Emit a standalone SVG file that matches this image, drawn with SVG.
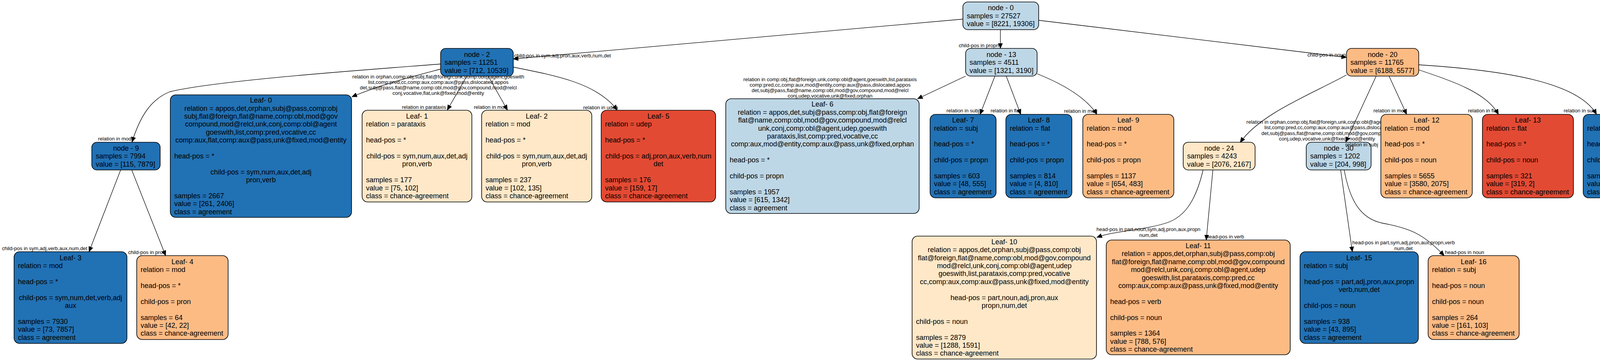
<svg xmlns="http://www.w3.org/2000/svg" width="4228" height="925" viewBox="0 0 4228 925">
<style>
.bx{stroke:#000;stroke-width:1.6}
.db{fill:#2171b5}.lb{fill:#bdd7e7}.lp{fill:#fee8c8}.op{fill:#fdbb84}.rd{fill:#e34a33}
.nt text{font-family:"Liberation Sans",Arial,Helvetica,sans-serif;font-size:18px;fill:#000}
.c{text-anchor:middle}
#edges path{fill:none;stroke:#000;stroke-width:1.3;marker-end:url(#arr)}
#edges text{font-family:"Liberation Sans",Arial,Helvetica,sans-serif;font-size:13px;fill:#000}
</style>
<defs>
<marker id="arr" markerUnits="userSpaceOnUse" markerWidth="14" markerHeight="12" viewBox="0 0 14 12" refX="13" refY="6" orient="auto"><path d="M0,0.5 L13,6 L0,11.5 Z" fill="#000" stroke="#000" stroke-width="1"/></marker>
</defs>
<rect width="4228" height="925" fill="#fff"/>

<g id="node30" class="nt"><rect class="bx lb" x="3344" y="364.5" width="166" height="71" rx="13"/>
<text class="c" x="3427" y="385.5">node - 30</text><text x="3354" y="406">samples = 1202</text><text x="3354" y="426.5">value = [204, 998]</text></g>

<g id="edges">
<path d="M2465,49 L1314,151"/>
<text x="1316" y="147">child-pos in sym,adj,pron,aux,verb,num,det</text>
<path d="M2561,76 L2561,124"/>
<text x="2557" y="121" text-anchor="end">child-pos in propn</text>
<path d="M2659,52 L3447,147"/>
<text x="3347" y="144.5">child-pos in noun</text>
<path d="M1128,164 C950,178 560,205 435,235 C385,255 358,300 338,364"/>
<text x="251" y="360">relation in mod</text>
<path d="M1128,177 C1060,195 980,215 901,248"/>
<text text-anchor="middle" x="1122" y="200.5">relation in orphan,comp:obj,subj,flat@foreign,unk,comp:obl@agent,goeswith</text>
<text text-anchor="middle" x="1122" y="214.5">list,comp:pred,cc,comp:aux,comp:aux@pass,dislocated,appos</text>
<text text-anchor="middle" x="1122" y="228.5">det,subj@pass,flat@name,comp:obl,mod@gov,compound,mod@relcl</text>
<text text-anchor="middle" x="1122" y="242.5">conj,vocative,flat,unk@fixed,mod@entity</text>
<path d="M1195,195 L1145,282"/>
<text x="1029" y="278.5">relation in parataxis</text>
<path d="M1250,195 L1299,282"/>
<text x="1213" y="278.5">relation in mod</text>
<path d="M1314,172 C1430,195 1530,215 1580,282"/>
<text x="1493" y="279.5">relation in udep</text>
<path d="M2472,195 L2349,253"/>
<text text-anchor="middle" x="2125" y="207.5">relation in comp:obj,flat@foreign,unk,comp:obl@agent,goeswith,list,parataxis</text>
<text text-anchor="middle" x="2125" y="221.5">comp:pred,cc,comp:aux,mod@entity,comp:aux@pass,dislocated,appos</text>
<text text-anchor="middle" x="2125" y="235.5">det,subj@pass,flat@name,comp:obl,mod@gov,compound,mod@relcl</text>
<text text-anchor="middle" x="2125" y="249.5">conj,udep,vocative,unk@fixed,orphan</text>
<path d="M2547,195 L2509,293"/>
<text x="2423" y="288">relation in subj</text>
<path d="M2576,195 L2613,293"/>
<text x="2536" y="288">relation in flat</text>
<path d="M2655,189 C2720,215 2780,250 2808,293"/>
<text x="2724" y="288.5">relation in mod</text>
<path d="M3556,195 L3601,293"/>
<text x="3516" y="287.5">relation in mod</text>
<path d="M3632,179 C3722,209 3806,238 3836,293"/>
<text x="3758" y="287.5">relation in flat</text>
<path d="M3632,166 C3850,180 4040,210 4087,293"/>
<text x="4003" y="287.5">relation in subj</text>
<path d="M3447,192 C3360,240 3225,292 3175,365"/>
<text text-anchor="middle" x="3397" y="316.5">relation in orphan,comp:obj,flat@foreign,unk,comp:obl@agent,goeswith</text>
<text text-anchor="middle" x="3397" y="331">list,comp:pred,cc,comp:aux,comp:aux@pass,dislocated</text>
<text text-anchor="middle" x="3397" y="345.5">det,subj@pass,flat@name,comp:obl,mod@gov,compound</text>
<text text-anchor="middle" x="3397" y="360">conj,udep,vocative,unk@fixed,mod@entity</text>
<path d="M3523,195 L3445,364"/>
<text x="3444" y="375">relation in subj</text>
<path d="M309,435 L228,645"/>
<text x="5" y="641">child-pos in sym,adj,verb,aux,num,det</text>
<path d="M337,435 L424,655"/>
<text x="328" y="651">child-pos in pron</text>
<path d="M3080,435 C3060,520 3030,555 2990,570 C2930,590 2860,590 2808,608"/>
<text text-anchor="middle" x="2940" y="592">head-pos in part,noun,sym,adj,pron,aux,propn</text>
<text text-anchor="middle" x="2940" y="606.5">num,det</text>
<path d="M3105,435 L3088,615"/>
<text x="3088" y="611">head-pos in verb</text>
<path d="M3432,435 L3462,645"/>
<text text-anchor="middle" x="3593" y="626">head-pos in part,sym,adj,pron,aux,propn,verb</text>
<text text-anchor="middle" x="3593" y="641">num,det</text>
<path d="M3441,435 C3455,510 3480,560 3540,572 C3610,585 3645,600 3697,655"/>
<text x="3699" y="651">head-pos in noun</text>
</g>

<g id="node0" class="nt"><rect class="bx lb" x="2465" y="5" width="194" height="71" rx="13"/>
<text class="c" x="2562" y="26">node - 0</text><text x="2475" y="46.5">samples = 27527</text><text x="2475" y="67">value = [8221, 19306]</text></g>
<g id="node2" class="nt"><rect class="bx db" x="1128" y="124" width="186" height="71" rx="13"/>
<text class="c" x="1221" y="145.5">node - 2</text><text x="1138" y="166">samples = 11251</text><text x="1138" y="186.5">value = [712, 10539]</text></g>
<g id="node13" class="nt"><rect class="bx lb" x="2472" y="124" width="183" height="71" rx="13"/>
<text class="c" x="2563.5" y="145.5">node - 13</text><text x="2482" y="166">samples = 4511</text><text x="2482" y="186.5">value = [1321, 3190]</text></g>
<g id="node20" class="nt"><rect class="bx op" x="3447" y="124" width="185" height="71" rx="13"/>
<text class="c" x="3539.5" y="145.5">node - 20</text><text x="3457" y="166">samples = 11765</text><text x="3457" y="186.5">value = [6188, 5577]</text></g>
<g id="node9" class="nt"><rect class="bx db" x="235" y="364.5" width="175" height="71" rx="13"/>
<text class="c" x="322.5" y="385.5">node - 9</text><text x="245" y="406">samples = 7994</text><text x="245" y="426.5">value = [115, 7879]</text></g>
<g id="node24" class="nt"><rect class="bx lp" x="3029" y="364.5" width="184" height="71" rx="13"/>
<text class="c" x="3121" y="385.5">node - 24</text><text x="3039" y="406">samples = 4243</text><text x="3039" y="426.5">value = [2076, 2167]</text></g>

<g id="leaf0" class="nt"><rect class="bx db" x="436" y="243" width="464" height="314" rx="14"/>
<text class="c" x="668" y="263.2">Leaf- 0</text>
<text class="c" x="668" y="283.6">relation = appos,det,orphan,subj@pass,comp:obj</text>
<text class="c" x="668" y="304">subj,flat@foreign,flat@name,comp:obl,mod@gov</text>
<text class="c" x="668" y="324.4">compound,mod@relcl,unk,conj,comp:obl@agent</text>
<text class="c" x="668" y="344.8">goeswith,list,comp:pred,vocative,cc</text>
<text class="c" x="668" y="365.2">comp:aux,flat,comp:aux@pass,unk@fixed,mod@entity</text>
<text x="446" y="406">head-pos = *</text>
<text class="c" x="668" y="446.8">child-pos = sym,num,aux,det,adj</text>
<text class="c" x="668" y="467.2">pron,verb</text>
<text x="446" y="508">samples = 2667</text>
<text x="446" y="528.4">value = [261, 2406]</text>
<text x="446" y="548.8">class = agreement</text></g>

<g id="leaf1" class="nt"><rect class="bx lp" x="927" y="282.5" width="281" height="235" rx="14"/>
<text class="c" x="1067.5" y="304">Leaf- 1</text>
<text x="937" y="324.4">relation = parataxis</text>
<text x="937" y="365.2">head-pos = *</text>
<text class="c" x="1067.5" y="406">child-pos = sym,num,aux,det,adj</text>
<text class="c" x="1067.5" y="426.4">pron,verb</text>
<text x="937" y="467.2">samples = 177</text>
<text x="937" y="487.6">value = [75, 102]</text>
<text x="937" y="508">class = chance-agreement</text></g>

<g id="leaf2" class="nt"><rect class="bx lp" x="1233" y="282.5" width="282" height="235" rx="14"/>
<text class="c" x="1374" y="304">Leaf- 2</text>
<text x="1243" y="324.4">relation = mod</text>
<text x="1243" y="365.2">head-pos = *</text>
<text class="c" x="1374" y="406">child-pos = sym,num,aux,det,adj</text>
<text class="c" x="1374" y="426.4">pron,verb</text>
<text x="1243" y="467.2">samples = 237</text>
<text x="1243" y="487.6">value = [102, 135]</text>
<text x="1243" y="508">class = chance-agreement</text></g>

<g id="leaf5" class="nt"><rect class="bx rd" x="1539" y="282.5" width="293" height="235" rx="14"/>
<text class="c" x="1685.5" y="304">Leaf- 5</text>
<text x="1549" y="324.4">relation = udep</text>
<text x="1549" y="365.2">head-pos = *</text>
<text class="c" x="1685.5" y="406">child-pos = adj,pron,aux,verb,num</text>
<text class="c" x="1685.5" y="426.4">det</text>
<text x="1549" y="467.2">samples = 176</text>
<text x="1549" y="487.6">value = [159, 17]</text>
<text x="1549" y="508">class = chance-agreement</text></g>

<g id="leaf6" class="nt"><rect class="bx lb" x="1858" y="253" width="495" height="294" rx="14"/>
<text class="c" x="2105.5" y="273.4">Leaf- 6</text>
<text class="c" x="2105.5" y="293.8">relation = appos,det,subj@pass,comp:obj,flat@foreign</text>
<text class="c" x="2105.5" y="314.2">flat@name,comp:obl,mod@gov,compound,mod@relcl</text>
<text class="c" x="2105.5" y="334.6">unk,conj,comp:obl@agent,udep,goeswith</text>
<text class="c" x="2105.5" y="355">parataxis,list,comp:pred,vocative,cc</text>
<text class="c" x="2105.5" y="375.4">comp:aux,mod@entity,comp:aux@pass,unk@fixed,orphan</text>
<text x="1868" y="416.2">head-pos = *</text>
<text x="1868" y="457">child-pos = propn</text>
<text x="1868" y="497.8">samples = 1957</text>
<text x="1868" y="518.2">value = [615, 1342]</text>
<text x="1868" y="538.6">class = agreement</text></g>

<g id="leaf7" class="nt"><rect class="bx db" x="2381" y="293" width="169" height="214" rx="14"/>
<text class="c" x="2465.5" y="314.2">Leaf- 7</text>
<text x="2391" y="334.6">relation = subj</text>
<text x="2391" y="375.4">head-pos = *</text>
<text x="2391" y="416.2">child-pos = propn</text>
<text x="2391" y="457">samples = 603</text>
<text x="2391" y="477.4">value = [48, 555]</text>
<text x="2391" y="497.8">class = agreement</text></g>

<g id="leaf8" class="nt"><rect class="bx db" x="2575" y="293" width="169" height="214" rx="14"/>
<text class="c" x="2659.5" y="314.2">Leaf- 8</text>
<text x="2585" y="334.6">relation = flat</text>
<text x="2585" y="375.4">head-pos = *</text>
<text x="2585" y="416.2">child-pos = propn</text>
<text x="2585" y="457">samples = 814</text>
<text x="2585" y="477.4">value = [4, 810]</text>
<text x="2585" y="497.8">class = agreement</text></g>

<g id="leaf9" class="nt"><rect class="bx op" x="2772" y="293" width="233" height="214" rx="14"/>
<text class="c" x="2888.5" y="314.2">Leaf- 9</text>
<text x="2782" y="334.6">relation = mod</text>
<text x="2782" y="375.4">head-pos = *</text>
<text x="2782" y="416.2">child-pos = propn</text>
<text x="2782" y="457">samples = 1137</text>
<text x="2782" y="477.4">value = [654, 483]</text>
<text x="2782" y="497.8">class = chance-agreement</text></g>

<g id="leaf12" class="nt"><rect class="bx op" x="3535" y="293" width="234" height="214" rx="14"/>
<text class="c" x="3652" y="314.2">Leaf- 12</text>
<text x="3545" y="334.6">relation = mod</text>
<text x="3545" y="375.4">head-pos = *</text>
<text x="3545" y="416.2">child-pos = noun</text>
<text x="3545" y="457">samples = 5655</text>
<text x="3545" y="477.4">value = [3580, 2075]</text>
<text x="3545" y="497.8">class = chance-agreement</text></g>

<g id="leaf13" class="nt"><rect class="bx rd" x="3795" y="293" width="233" height="214" rx="14"/>
<text class="c" x="3911.5" y="314.2">Leaf- 13</text>
<text x="3805" y="334.6">relation = flat</text>
<text x="3805" y="375.4">head-pos = *</text>
<text x="3805" y="416.2">child-pos = noun</text>
<text x="3805" y="457">samples = 321</text>
<text x="3805" y="477.4">value = [319, 2]</text>
<text x="3805" y="497.8">class = chance-agreement</text></g>

<g id="leaf14" class="nt"><rect class="bx db" x="4053" y="293" width="170" height="214" rx="14"/>
<text class="c" x="4138" y="314.2">Leaf- 14</text>
<text x="4063" y="334.6">relation = subj</text>
<text x="4063" y="375.4">head-pos = *</text>
<text x="4063" y="416.2">child-pos = noun</text>
<text x="4063" y="457">samples = 344</text>
<text x="4063" y="477.4">value = [9, 335]</text>
<text x="4063" y="497.8">class = agreement</text></g>

<g id="leaf3" class="nt"><rect class="bx db" x="36" y="645" width="289" height="235" rx="14"/>
<text class="c" x="180.5" y="666.5">Leaf- 3</text>
<text x="46" y="686.9">relation = mod</text>
<text x="46" y="727.7">head-pos = *</text>
<text class="c" x="180.5" y="768.5">child-pos = sym,num,det,verb,adj</text>
<text class="c" x="180.5" y="788.9">aux</text>
<text x="46" y="829.7">samples = 7930</text>
<text x="46" y="850.1">value = [73, 7857]</text>
<text x="46" y="870.5">class = agreement</text></g>

<g id="leaf4" class="nt"><rect class="bx op" x="350" y="655" width="234" height="215" rx="14"/>
<text class="c" x="467" y="676.7">Leaf- 4</text>
<text x="360" y="697.1">relation = mod</text>
<text x="360" y="737.9">head-pos = *</text>
<text x="360" y="778.7">child-pos = pron</text>
<text x="360" y="819.5">samples = 64</text>
<text x="360" y="839.9">value = [42, 22]</text>
<text x="360" y="860.3">class = chance-agreement</text></g>

<g id="leaf10" class="nt"><rect class="bx lp" x="2335" y="605" width="472" height="315" rx="14"/>
<text class="c" x="2571" y="625.7">Leaf- 10</text>
<text class="c" x="2571" y="646.1">relation = appos,det,orphan,subj@pass,comp:obj</text>
<text class="c" x="2571" y="666.5">flat@foreign,flat@name,comp:obl,mod@gov,compound</text>
<text class="c" x="2571" y="686.9">mod@relcl,unk,conj,comp:obl@agent,udep</text>
<text class="c" x="2571" y="707.3">goeswith,list,parataxis,comp:pred,vocative</text>
<text class="c" x="2571" y="727.7">cc,comp:aux,comp:aux@pass,unk@fixed,mod@entity</text>
<text class="c" x="2571" y="768.5">head-pos = part,noun,adj,pron,aux</text>
<text class="c" x="2571" y="788.9">propn,num,det</text>
<text x="2345" y="829.7">child-pos = noun</text>
<text x="2345" y="870.5">samples = 2879</text>
<text x="2345" y="890.9">value = [1288, 1591]</text>
<text x="2345" y="911.3">class = chance-agreement</text></g>

<g id="leaf11" class="nt"><rect class="bx op" x="2832" y="615" width="471" height="294" rx="14"/>
<text class="c" x="3067.5" y="635.9">Leaf- 11</text>
<text class="c" x="3067.5" y="656.3">relation = appos,det,orphan,subj@pass,comp:obj</text>
<text class="c" x="3067.5" y="676.7">flat@foreign,flat@name,comp:obl,mod@gov,compound</text>
<text class="c" x="3067.5" y="697.1">mod@relcl,unk,conj,comp:obl@agent,udep</text>
<text class="c" x="3067.5" y="717.5">goeswith,list,parataxis,comp:pred,cc</text>
<text class="c" x="3067.5" y="737.9">comp:aux,comp:aux@pass,unk@fixed,mod@entity</text>
<text x="2842" y="778.7">head-pos = verb</text>
<text x="2842" y="819.5">child-pos = noun</text>
<text x="2842" y="860.3">samples = 1364</text>
<text x="2842" y="880.7">value = [788, 576]</text>
<text x="2842" y="901.1">class = chance-agreement</text></g>

<g id="leaf15" class="nt"><rect class="bx db" x="3328" y="645" width="303" height="235" rx="14"/>
<text class="c" x="3479.5" y="666.5">Leaf- 15</text>
<text x="3338" y="686.9">relation = subj</text>
<text class="c" x="3479.5" y="727.7">head-pos = part,adj,pron,aux,propn</text>
<text class="c" x="3479.5" y="748.1">verb,num,det</text>
<text x="3338" y="788.9">child-pos = noun</text>
<text x="3338" y="829.7">samples = 938</text>
<text x="3338" y="850.1">value = [43, 895]</text>
<text x="3338" y="870.5">class = agreement</text></g>

<g id="leaf16" class="nt"><rect class="bx op" x="3656" y="655" width="233" height="215" rx="14"/>
<text class="c" x="3772.5" y="676.7">Leaf- 16</text>
<text x="3666" y="697.1">relation = subj</text>
<text x="3666" y="737.9">head-pos = noun</text>
<text x="3666" y="778.7">child-pos = noun</text>
<text x="3666" y="819.5">samples = 264</text>
<text x="3666" y="839.9">value = [161, 103]</text>
<text x="3666" y="860.3">class = chance-agreement</text></g>
</svg>
